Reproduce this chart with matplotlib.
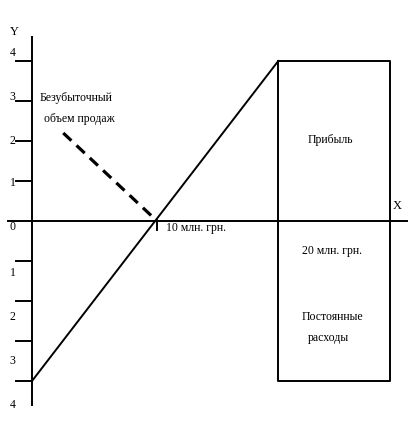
import matplotlib.pyplot as plt

plt.rcParams["font.family"] = ["Liberation Serif", "DejaVu Serif"]

# break-even chart data (x in млн. грн., y in units)
line_x = [0, 19.7]
line_y = [-4, 4]
breakeven_x = 10
dash_x = [2.5, 10]
dash_y = [2.2, 0]
rect_x = [19.7, 28.6]
rect_y = [-4, 4]
tick_vals = [4, 3, 2, 1, -1, -2, -3, -4]
tick_labels = ["4", "3", "2", "1", "1", "2", "3", "4"]
label_pos = [4.2, 3.1, 2.0, 0.95, -1.3, -2.4, -3.5, -4.6]

fig = plt.figure(figsize=(4.14, 4.42), dpi=100)
ax = fig.add_axes([0, 0, 1, 1])
ax.set_xlim(-2.56, 30.56)
ax.set_ylim(-5.525, 5.525)
ax.axis("off")

lw = 1.4
fs = 8.5
# axes
ax.plot([-1.9, 30.0], [0, 0], color="black", lw=lw)
ax.plot([0, 0], [-4.6, 4.6], color="black", lw=lw)
for v in tick_vals:
    ax.plot([-1.3, 0], [v, v], color="black", lw=lw)
for v, lab in zip(label_pos, tick_labels):
    ax.text(-1.55, v, lab, ha="center", va="center", fontsize=8.5)
ax.text(-1.55, -0.15, "0", ha="center", va="center", fontsize=8.5)
ax.text(-1.45, 4.73, "Y", ha="center", va="center", fontsize=9)
ax.text(29.2, 0.38, "X", ha="center", va="center", fontsize=9)

# revenue line
ax.plot(line_x, line_y, color="black", lw=lw)
ax.plot([breakeven_x, breakeven_x], [0, -0.23], color="black", lw=lw)
ax.plot(dash_x, dash_y, color="black", lw=2.3, dashes=(3.5, 2.2))

# rectangle
ax.plot([rect_x[0], rect_x[1], rect_x[1], rect_x[0], rect_x[0]],
        [rect_y[1], rect_y[1], rect_y[0], rect_y[0], rect_y[1]],
        color="black", lw=lw)

ax.text(3.55, 3.08, "Безубыточный", ha="center", va="center", fontsize=fs)
ax.text(3.8, 2.55, "объем продаж", ha="center", va="center", fontsize=fs)
ax.text(10.7, -0.18, "10 млн. грн.", ha="left", va="center", fontsize=fs)
ax.text(23.9, 2.03, "Прибыль", ha="center", va="center", fontsize=fs)
ax.text(24.0, -0.75, "20 млн. грн.", ha="center", va="center", fontsize=fs)
ax.text(24.0, -2.4, "Постоянные", ha="center", va="center", fontsize=fs)
ax.text(23.7, -2.93, "расходы", ha="center", va="center", fontsize=fs)

fig.savefig("out.png", dpi=100)
